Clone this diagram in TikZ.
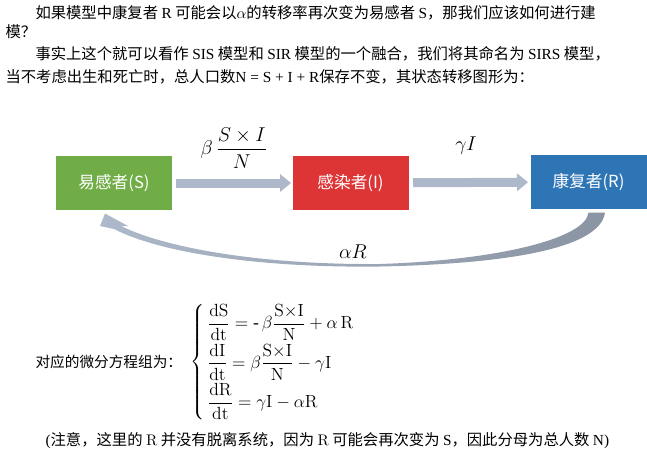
\RequirePackage{fix-cm}
\documentclass[tikz,border=0pt]{standalone}
\usepackage{amsmath}
\usepackage[no-math]{fontspec}
\setmainfont{Liberation Serif}
\newfontfamily\zh{Noto Sans CJK SC}
\usetikzlibrary{arrows.meta,positioning,calc}
\tikzset{every picture/.style={line width=0.75pt}}
\definecolor{sgreen}{RGB}{112,173,71}
\definecolor{ired}{RGB}{221,52,54}
\definecolor{rblue}{RGB}{46,117,182}
\definecolor{flowgray}{RGB}{173,185,202}
\definecolor{flowdark}{RGB}{138,148,163}

\begin{document}
\begin{tikzpicture}[x=0.75pt,y=-0.75pt,
    state/.style={minimum width=87pt,minimum height=40.5pt,inner sep=0pt,
      text=white,font=\zh\fontsize{12.5}{15}\selectfont},
    flow/.style={draw=flowgray,line width=6.75pt,
      -{Triangle[length=8.25pt,width=13.5pt,line width=0pt]}},
    para/.style={anchor=west,inner sep=0pt,font=\zh\fontsize{11.5}{14}\selectfont},
    rate/.style={inner sep=0pt,font=\fontsize{15}{18}\selectfont}]
    \useasboundingbox (0,0) rectangle (647,461);

    % 绘制说明文字
    \node[para] (t1) at (35,13) {如果模型中康复者 \textrm{R} 可能会以$\alpha$的转移率再次变为易感者 \textrm{S}，那我们应该如何进行建};
    \node[para] (t2) at (5,32) {模？};
    \node[para] (t3) at (35,54) {事实上这个就可以看作 \textrm{SIS} 模型和 \textrm{SIR} 模型的一个融合，我们将其命名为 \textrm{SIRS} 模型，};
    \node[para] (t4) at (5,77) {当不考虑出生和死亡时，总人口数\textrm{N = S + I + R}保存不变，其状态转移图形为：};

    % 绘制三个状态
    \node[state,fill=sgreen] (S) at (114,183) {易感者(S)};
    \node[state,fill=ired] (I) at (350.5,183) {感染者(I)};
    \node[state,fill=rblue] (R) at (588.5,182) {康复者(R)};

    % 绘制转移
    \draw[flow,shorten <=2.25pt,shorten >=0.75pt] (S) -- (I);
    \draw[flow,shorten <=3pt,shorten >=1.5pt] (I) -- (R);
    \node[rate] (beta) at (234,148) {$\beta\,\dfrac{S\times I}{N}$};
    \node[rate] (gamma) at (466,146) {$\gamma I$};

    % 绘制回流 R -> S
    \coordinate (rin) at ($(R.south)+(0,3)$);
    \coordinate (rout) at ($(R.south)+(16.5,3)$);
    \coordinate (tip) at ($(S.south)+(-9,3)$);
    \shade[left color=flowgray,middle color=flowgray!75,right color=flowdark]
      (rin) .. controls (586,238) and (500,260) .. (380,264)
      .. controls (270,265) and (170,250) .. (121,226)
      -- (128,226) -- (tip) -- (100,226) -- (114,229)
      .. controls (165,255) and (270,268) .. (380,266.5)
      .. controls (500,264) and (600,250) .. (rout) -- cycle;
    \node[rate] (alpha) at (353,252) {$\alpha R$};

    % 绘制微分方程组
    \node[para,font=\zh\fontsize{11}{14}\selectfont] (sys) at (35,362) {对应的微分方程组为：};
    \node[anchor=west,inner sep=0pt,font=\fontsize{13.2}{15}\selectfont] (eqs) at (190,362)
      {$\left\{\begin{array}{@{\,}l}
        \dfrac{\mathrm{dS}}{\mathrm{dt}}=\text{-}\,\beta\dfrac{\mathrm{S}{\times}\mathrm{I}}{\mathrm{N}}+\alpha\,\mathrm{R}\\[7pt]
        \dfrac{\mathrm{dI}}{\mathrm{dt}}=\beta\dfrac{\mathrm{S}{\times}\mathrm{I}}{\mathrm{N}}-\gamma\mathrm{I}\\[7pt]
        \dfrac{\mathrm{dR}}{\mathrm{dt}}=\gamma\mathrm{I}-\alpha\mathrm{R}
      \end{array}\right.$};
    \node[para] (note) at (45,441) {\textrm{(}注意，这里的 $\mathrm{R}$ 并没有脱离系统，因为 $\mathrm{R}$ 可能会再次变为 \textrm{S}，因此分母为总人数 \textrm{N)}};
\end{tikzpicture}
\end{document}
